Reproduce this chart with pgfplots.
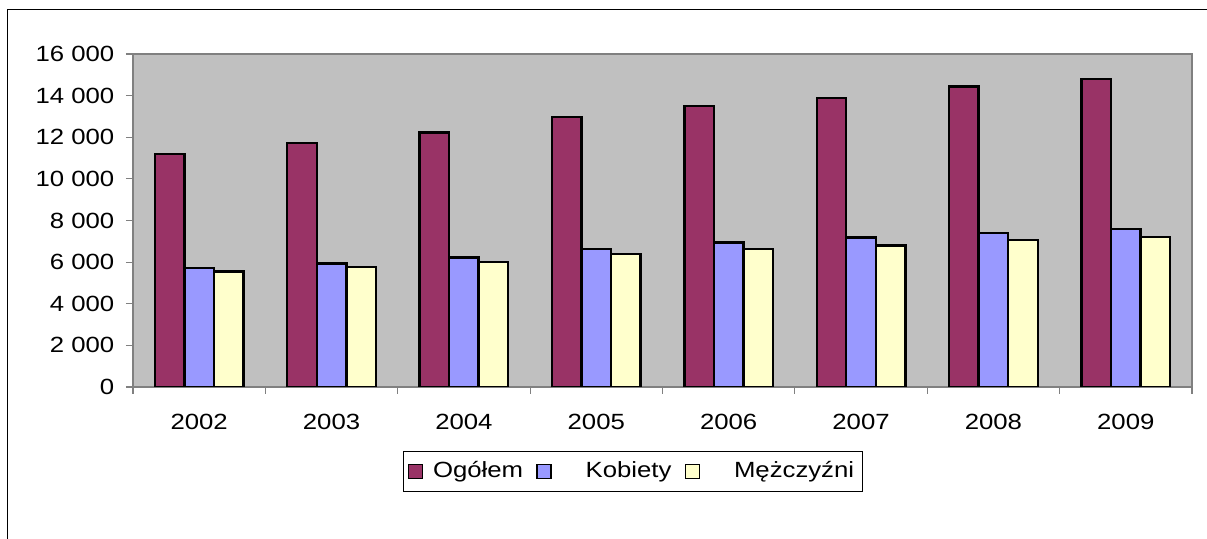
\documentclass[border=0pt]{standalone}
\usepackage{fontspec}
\setmainfont{Liberation Sans}[FakeStretch=1.17]
\usepackage{pgfplots}
\pgfplotsset{compat=1.18}
\definecolor{ogol}{HTML}{993366}
\definecolor{kob}{HTML}{9999FF}
\definecolor{mez}{HTML}{FFFFCC}
\definecolor{plotbg}{HTML}{C0C0C0}
\definecolor{axgray}{HTML}{808080}
\begin{document}
\fontsize{11pt}{13pt}\selectfont
\begin{tikzpicture}
\useasboundingbox (0,-269.5pt) rectangle (603.5pt,0);
\draw[line width=0.75pt] (3.75pt,-280pt) -- (3.75pt,-4.75pt) -- (610pt,-4.75pt);
\begin{axis}[
  at={(66.5pt,-193.5pt)}, anchor=south west,
  scale only axis, width=529.5pt, height=166.5pt,
  ymin=0, ymax=16000, xmin=-0.5, xmax=7.5,
  scaled y ticks=false,
  ytick={0,2000,...,16000},
  yticklabels={0,2 000,4 000,6 000,8 000,10 000,12 000,14 000,16 000},
  xtick={0,...,7},
  xticklabels={2002,2003,2004,2005,2006,2007,2008,2009},
  minor xtick={-0.5,0.5,...,7.5},
  xtick pos=bottom, ytick pos=left,
  tick align=outside,
  major tick length=3.5pt, minor tick length=3.5pt,
  x tick style={draw=none},
  minor x tick style={draw=axgray, line width=0.6pt},
  y tick style={draw=axgray, line width=0.6pt},
  axis background/.style={fill=plotbg},
  axis line style={axgray, line width=1pt},
  tick label style={font=\fontsize{11pt}{13pt}\selectfont},
  xticklabel style={yshift=-6pt},
  yticklabel style={xshift=-2pt},
  ybar=0pt, bar width=0.223,
  every axis plot/.append style={draw=black, line width=1.2pt},
  legend columns=3,
  legend style={at={(0.472,-0.2538)}, anchor=center, draw=black, line width=0.5pt,
    font=\fontsize{11pt}{13pt}\selectfont, inner xsep=2pt, inner ysep=3pt,
    /tikz/every odd column/.append style={column sep=3pt},
    /tikz/every even column/.append style={column sep=4.5pt}},
  legend image code/.code={\draw[#1,line width=0.75pt] (0pt,-3.5pt) rectangle (7pt,3.5pt);},
]
\addplot[fill=ogol, bar shift=-0.223] coordinates {(0,11200) (1,11710) (2,12220) (3,12960) (4,13500) (5,13900) (6,14430) (7,14790)};
\addplot[fill=kob, bar shift=0] coordinates {(0,5720) (1,5940) (2,6230) (3,6630) (4,6950) (5,7190) (6,7410) (7,7580)};
\addplot[fill=mez, bar shift=0.223] coordinates {(0,5540) (1,5780) (2,6020) (3,6390) (4,6620) (5,6790) (6,7050) (7,7220)};
\legend{Ogółem,\hspace{12pt}Kobiety,\hspace{12pt}Mężczyźni}
\end{axis}
\end{tikzpicture}
\end{document}
